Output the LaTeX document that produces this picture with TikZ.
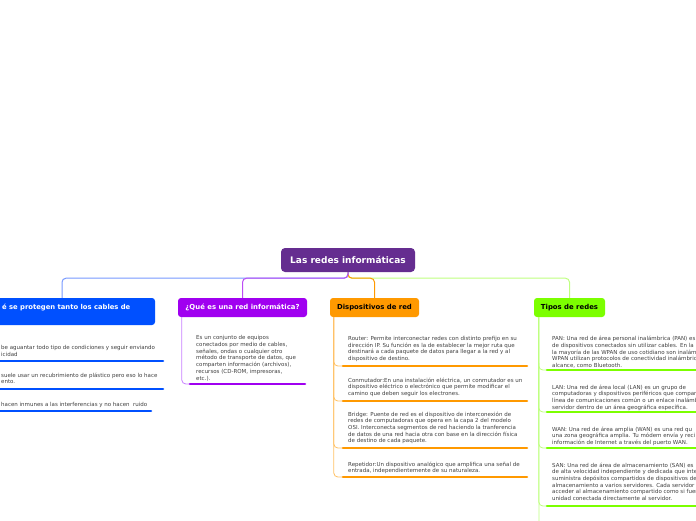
\documentclass[tikz,border=0pt]{standalone}
\usepackage{fontspec}
\setmainfont{DejaVu Sans}
\definecolor{rootC}{HTML}{652D90}
\definecolor{blueC}{HTML}{0050FF}
\definecolor{blueL}{HTML}{7799FF}
\definecolor{purC}{HTML}{A000F0}
\definecolor{purL}{HTML}{C980FF}
\definecolor{orC}{HTML}{FF9900}
\definecolor{orL}{HTML}{FFC266}
\definecolor{grC}{HTML}{7CFF00}
\definecolor{grL}{HTML}{BFFF80}
\definecolor{txt}{HTML}{404040}
\begin{document}
\begin{tikzpicture}[x=1pt,y=-1pt,
  headbox/.style={rounded corners=3pt, inner sep=0pt, minimum height=19pt, font=\bfseries\fontsize{6.9}{8}\selectfont},
  body/.style={anchor=north west, align=left, inner sep=0pt, font=\fontsize{5.5}{6.7}\selectfont, text=txt},
  uline/.style={line width=2.6pt, line cap=round},
  branch/.style={line width=0.8pt, rounded corners=4pt},
  conn/.style={line width=1pt, rounded corners=4pt}]
\useasboundingbox (0,0) rectangle (696,520);
\clip (0,0) rectangle (696,520);
\fill[white] (0,0) rectangle (696,520);

% root
\node[fill=rootC, rounded corners=4pt, inner sep=0pt, minimum width=134pt, minimum height=24pt, text=white, font=\bfseries\fontsize{9}{10}\selectfont] (root) at (348,260) {Las redes informáticas};

% main topics
\node[headbox, fill=blueC, minimum width=186pt, minimum height=27pt] (blue) at (62,311.5) {};
\node[anchor=west, inner sep=0pt, text=white, font=\bfseries\fontsize{6.8}{8}\selectfont] (bluet) at (2,308) {é se protegen tanto los cables de};
\node[headbox, fill=purC, minimum width=129pt, text=white] (pur) at (242.5,307.5) {¿Qué es una red informática?};
\node[headbox, fill=orC, minimum width=89pt, text=black] (ora) at (374.5,307.5) {Dispositivos de red};
\node[headbox, fill=grC, minimum width=71pt, text=black] (gre) at (569.5,307.5) {Tipos de redes};

% connectors root -> topics
\draw[conn, grL] (root.south) -- ++(0,6) -| (gre.north);
\draw[conn, orC] (root.south) -- ++(0,6) -| (ora.north);
\draw[conn, blueL] (root.south) -- ++(0,6) -| (blue.north);
\draw[conn, purC!70] (root.south) -- ++(0,6) -| (pur.north);

% blue items (branch off-page)
\coordinate (b1s) at (-5,361); \coordinate (b1e) at (163,361);
\coordinate (b2s) at (-5,389); \coordinate (b2e) at (163,389);
\coordinate (b3s) at (-5,411); \coordinate (b3e) at (151,411);
\draw[uline, blueC] (b1s) -- (b1e);
\draw[uline, blueC] (b2s) -- (b2e);
\draw[uline, blueC] (b3s) -- (b3e);
\node[body] (bt1) at (1,345) {be aguantar todo tipo de condiciones y seguir enviando\\icidad};
\node[body] (bt2) at (1,372.5) {suele usar un recubrimiento de plástico pero eso lo hace\\ento.};
\node[body] (bt3) at (1,402) {hacen inmunes a las interferencias y no hacen\ \ ruido};

% purple item
\coordinate (p1) at (190,384); \coordinate (p1e) at (305,384);
\draw[branch, purL] ([xshift=4pt]pur.south west) |- (p1);
\draw[uline, purC] (p1) -- (p1e);
\node[body] (pt1) at (196,335.5) {Es un conjunto de equipos\\conectados por medio de cables,\\señales, ondas o cualquier otro\\método de transporte de datos, que\\comparten información (archivos),\\recursos (CD-ROM, impresoras,\\etc.).};

% orange items
\coordinate (o1) at (343,366); \coordinate (o1e) at (527,366);
\coordinate (o2) at (343,401); \coordinate (o2e) at (527,401);
\coordinate (o3) at (343,448); \coordinate (o3e) at (527,448);
\coordinate (o4) at (343,477); \coordinate (o4e) at (527,477);
\foreach \i in {4,3,2,1} {\draw[branch, orL] ([xshift=4pt]ora.south west) |- (o\i);}
\foreach \i in {1,2,3,4} {\draw[uline, orC] (o\i) -- (o\i e);}
\node[body] (ot1) at (348,336) {Router: Permite interconectar redes con distinto prefijo en su\\dirección IP. Su función es la de establecer la mejor ruta que\\destinará a cada paquete de datos para llegar a la red y al\\dispositivo de destino.};
\node[body] (ot2) at (348,377.5) {Conmutador:En una instalación eléctrica, un conmutador es un\\dispositivo eléctrico o electrónico que permite modificar el\\camino que deben seguir los electrones.};
\node[body] (ot3) at (348,411.5) {Bridge: Puente de red es el dispositivo de interconexión de\\redes de computadoras que opera en la capa 2 del modelo\\OSI. Interconecta segmentos de red haciendo la tranferencia\\de datos de una red hacia otra con base en la dirección física\\de destino de cada paquete.};
\node[body] (ot4) at (348,461.5) {Repetidor:Un dispositivo analógico que amplifica una señal de\\entrada, independientemente de su naturaleza.};

% green items
\coordinate (g1) at (547,370); \coordinate (g1e) at (705,370);
\coordinate (g2) at (547,412); \coordinate (g2e) at (705,412);
\coordinate (g3) at (547,448); \coordinate (g3e) at (705,448);
\coordinate (g4) at (547,506); \coordinate (g4e) at (705,506);
\coordinate (gend) at (539,530);
\draw[branch, grL] ([xshift=5pt]gre.south west) -- (gend);
\foreach \i in {4,3,2,1} {\draw[branch, grL] ([xshift=5pt]gre.south west) |- (g\i);}
\foreach \i in {1,2,3,4} {\draw[uline, grC] (g\i) -- (g\i e);}
\node[body] (gt1) at (552,336) {PAN: Una red de área personal inalámbrica (PAN) es\\de dispositivos conectados sin utilizar cables. En la\\la mayoría de las WPAN de uso cotidiano son inalám\\WPAN utilizan protocolos de conectividad inalámbric\\alcance, como Bluetooth.};
\node[body] (gt2) at (552,384.5) {LAN: Una red de área local (LAN) es un grupo de\\computadoras y dispositivos periféricos que compar\\línea de comunicaciones común o un enlace inalámb\\servidor dentro de un área geográfica específica.};
\node[body] (gt3) at (552,426.5) {WAN: Una red de área amplia (WAN) es una red qu\\una zona geográfica amplia. Tu módem envía y reci\\información de Internet a través del puerto WAN.};
\node[body] (gt4) at (552,462.5) {SAN: Una red de área de almacenamiento (SAN) es\\de alta velocidad independiente y dedicada que inte\\suministra depósitos compartidos de dispositivos de\\almacenamiento a varios servidores. Cada servidor\\acceder al almacenamiento compartido como si fuer\\unidad conectada directamente al servidor.};
\end{tikzpicture}
\end{document}
